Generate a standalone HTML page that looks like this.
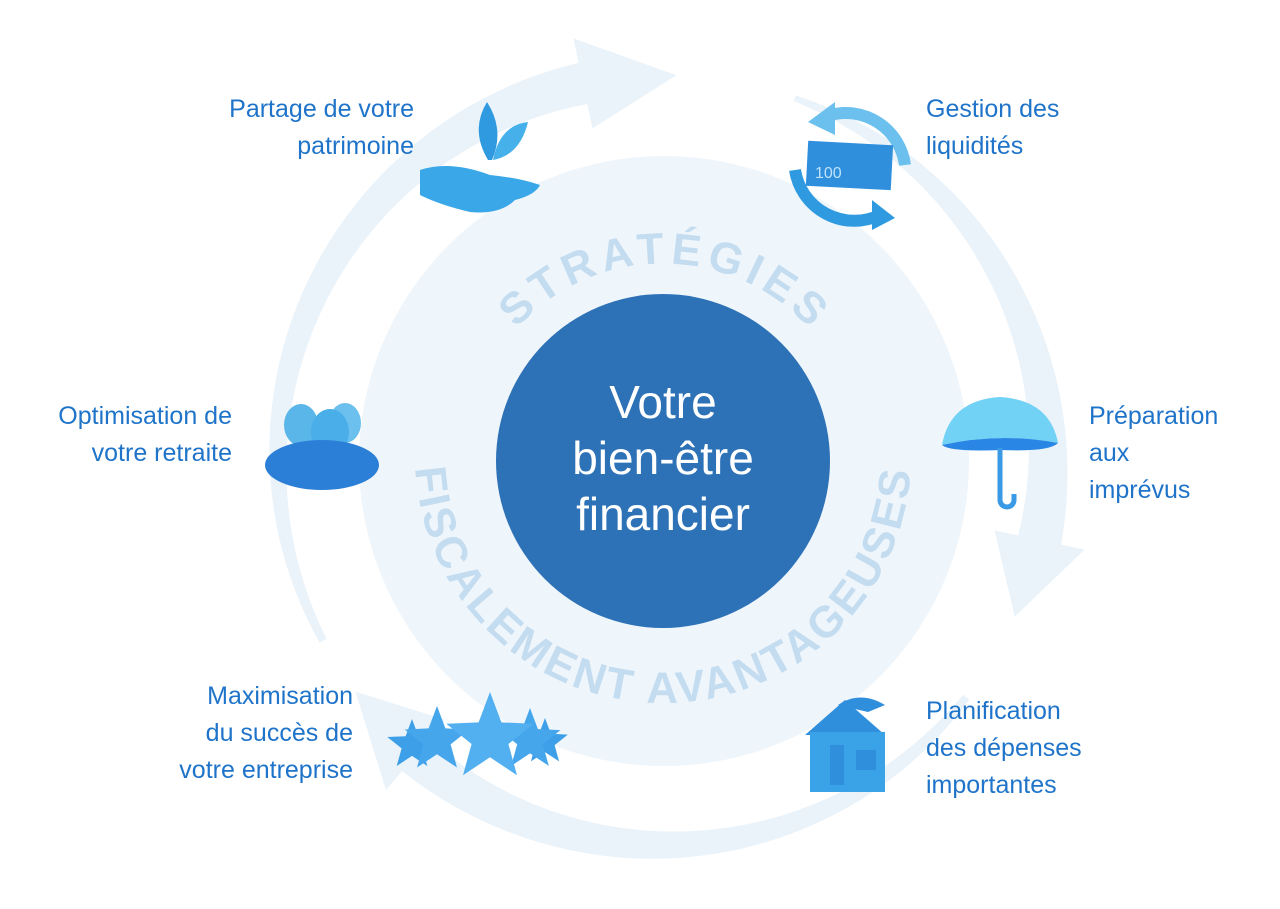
<!DOCTYPE html>
<html><head><meta charset="utf-8"><style>
html,body{margin:0;padding:0;background:#fff;width:1280px;height:909px;overflow:hidden}
svg{display:block}
.lb{font-family:"Liberation Sans",sans-serif;font-size:25px;fill:#1f74c9}
.ring{font-family:"Liberation Sans",sans-serif;font-weight:bold;font-size:44px;fill:#c4dcf0}
.ct{font-family:"Liberation Sans",sans-serif;font-size:46px;fill:#fff;text-anchor:middle}
</style></head><body>
<svg id="s" width="1280" height="909" viewBox="0 0 1280 909" xmlns="http://www.w3.org/2000/svg">
<g id="arrows" fill="#eaf3fa"></g>
<circle cx="664" cy="461" r="305" fill="#eef5fb"/>
<defs>
<path id="top" d="M 484 377 A 198 198 0 0 1 842 377"/>
<path id="bot" d="M 415 455 A 248 248 0 0 0 911 455"/>
</defs>
<text class="ring"><textPath href="#top" startOffset="50%" text-anchor="middle" textLength="330" lengthAdjust="spacing">STRATÉGIES</textPath></text>
<text class="ring" letter-spacing="3"><textPath href="#bot" startOffset="50%" text-anchor="middle">FISCALEMENT  AVANTAGEUSES</textPath></text>
<circle cx="663" cy="461" r="167" fill="#2d71b6"/>
<text class="ct" x="663" y="418">Votre</text>
<text class="ct" x="663" y="474">bien-être</text>
<text class="ct" x="663" y="530">financier</text>

<text class="lb" text-anchor="end"><tspan x="414" y="117">Partage de votre</tspan><tspan x="414" y="154">patrimoine</tspan></text>
<text class="lb"><tspan x="926" y="117">Gestion des</tspan><tspan x="926" y="154">liquidités</tspan></text>
<text class="lb" text-anchor="end"><tspan x="232" y="424">Optimisation de</tspan><tspan x="232" y="461">votre retraite</tspan></text>
<text class="lb"><tspan x="1089" y="424">Préparation</tspan><tspan x="1089" y="461">aux</tspan><tspan x="1089" y="498">imprévus</tspan></text>
<text class="lb" text-anchor="end"><tspan x="353" y="704">Maximisation</tspan><tspan x="353" y="741">du succès de</tspan><tspan x="353" y="778">votre entreprise</tspan></text>
<text class="lb"><tspan x="926" y="719">Planification</tspan><tspan x="926" y="756">des dépenses</tspan><tspan x="926" y="793">importantes</tspan></text>

<!-- hand + leaves -->
<g>
<path d="M420 170 Q450 160 490 175 Q520 178 540 185 Q535 195 515 200 Q500 215 470 212 Q440 205 420 195 Z" fill="#3aa7e8"/>
<path d="M488 160 Q470 130 487 102 Q505 130 492 160 Z" fill="#2f9ae0"/>
<path d="M493 160 Q500 125 528 122 Q520 155 493 160 Z" fill="#46b0ea"/>
</g>
<!-- money cycle -->
<g>
<path d="M830 115 A60 60 0 0 1 905 165" stroke="#6cc0ee" stroke-width="12" fill="none"/>
<path d="M808 122 L835 102 L835 135 Z" fill="#6cc0ee"/>
<path d="M795 170 A60 60 0 0 0 880 215" stroke="#2f9ae0" stroke-width="12" fill="none"/>
<path d="M895 218 L872 200 L872 230 Z" fill="#2f9ae0"/>
<rect x="807" y="143" width="85" height="45" fill="#2f8fdc" transform="rotate(3 850 165)"/>
<text x="815" y="178" font-family="Liberation Sans" font-size="16" fill="#bfe3fa">100</text>
</g>
<!-- umbrella -->
<g>
<path d="M942 445 Q950 400 1000 397 Q1050 400 1058 443 Q1000 432 942 445 Z" fill="#72d2f5"/>
<path d="M942 445 Q1000 432 1058 443 Q1050 452 1000 450 Q950 452 942 445 Z" fill="#2a86e4"/>
<path d="M1000 448 V500 A6 6 0 0 0 1014 500 V494" stroke="#3a9ae6" stroke-width="5" fill="none"/>
</g>
<!-- nest -->
<g>
<ellipse cx="301" cy="425" rx="17" ry="21" fill="#5ab5e8"/>
<ellipse cx="345" cy="423" rx="16" ry="20" fill="#6cc0ee"/>
<ellipse cx="330" cy="432" rx="19" ry="23" fill="#4aaee8"/>
<ellipse cx="322" cy="465" rx="57" ry="25" fill="#2c7fd6"/>
</g>
<g id="stars" fill="#48aaee"></g>
<!-- house -->
<g>
<path d="M805 735 L845 700 L885 735 Z" fill="#2f8fdc"/>
<rect x="810" y="732" width="75" height="60" fill="#3aa3e8"/>
<rect x="830" y="745" width="14" height="40" fill="#2f8fdc"/>
<rect x="856" y="750" width="20" height="20" fill="#2f8fdc"/>
<path d="M838 705 Q860 690 885 705 L868 712 Z" fill="#2f8fdc"/>
</g>
</svg>
<script>
(function(){
var NS='http://www.w3.org/2000/svg';
var cx=663,cy=460,R=385,g=document.getElementById('arrows');
function P(a,r){a=a*Math.PI/180;return [cx+r*Math.cos(a),cy+r*Math.sin(a)];}
function poly(parent,pts,fill){var p=document.createElementNS(NS,'polygon');
 p.setAttribute('points',pts.map(function(q){return q[0].toFixed(1)+','+q[1].toFixed(1)}).join(' '));
 if(fill)p.setAttribute('fill',fill);parent.appendChild(p);}
function arrow(a0,a1,w0,w1,hw,tip){
 var n=50,o=[],i=[],k,t,a,w;
 for(k=0;k<=n;k++){t=k/n;a=a0+(a1-a0)*t;w=w0+(w1-w0)*t;o.push(P(a,R+w/2));i.push(P(a,R-w/2));}
 var pts=o.slice();
 pts.push(P(a1,R+hw/2));pts.push(P(tip,R));pts.push(P(a1,R-hw/2));
 pts=pts.concat(i.reverse());
 poly(g,pts);
}
arrow(152,258,8,42,92,272);
arrow(290,372,6,44,92,384);
arrow(38,130,8,42,92,143);
var sg=document.getElementById('stars');
function star(x,y,r,fill){var pts=[];for(var k=0;k<10;k++){var a=(-90+k*36)*Math.PI/180;var rr=k%2?r*0.42:r;pts.push([x+rr*Math.cos(a),y+rr*Math.sin(a)]);}poly(sg,pts,fill);}
star(412,745,26,'#3d9fe8');star(545,742,24,'#3d9fe8');
star(437,740,34,'#45a6ec');star(530,740,32,'#45a6ec');
star(490,738,46,'#52b0f0');
})();
</script>
</body></html>
